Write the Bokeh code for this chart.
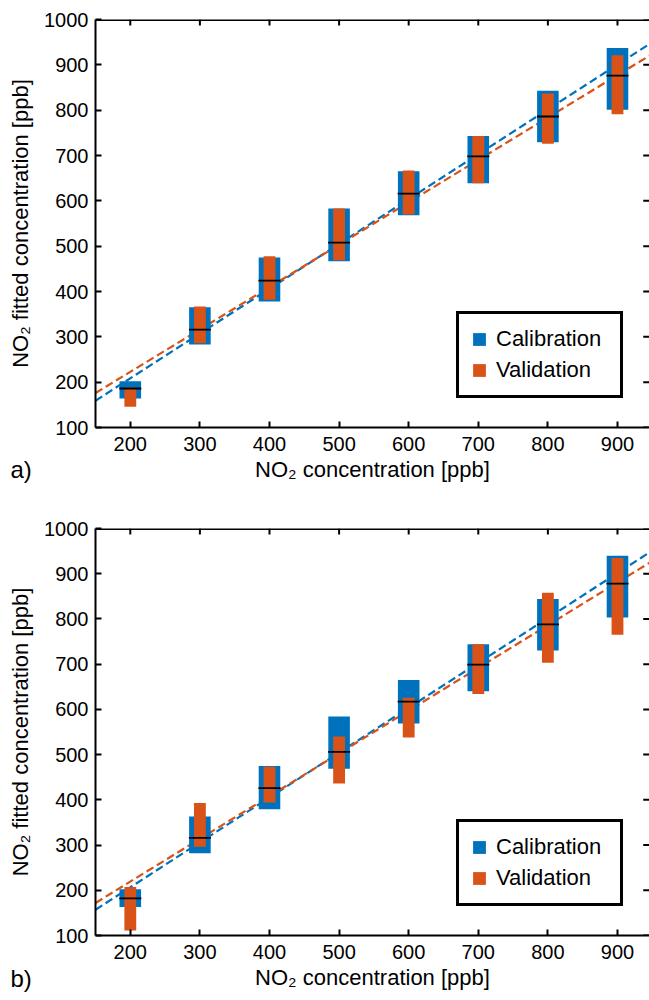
import numpy as np
from bokeh.plotting import figure
from bokeh.models import FixedTicker, Range1d, LinearAxis, Legend, Span, Title
from bokeh.layouts import column
from bokeh.embed import file_html
from bokeh.resources import INLINE

# ---- data ----
conc = [200, 300, 400, 500, 600, 700, 800, 900]
x_ticks = [200, 300, 400, 500, 600, 700, 800, 900]
y_ticks = [100, 200, 300, 400, 500, 600, 700, 800, 900, 1000]

# panel a)
a_cal_high = [202, 365, 475, 583, 665, 743, 843, 937]
a_cal_low = [164, 283, 378, 467, 568, 639, 729, 801]
a_cal_mid = [186, 316, 424, 508, 616, 698, 786, 876]
a_val_high = [188, 367, 478, 583, 667, 743, 837, 921]
a_val_low = [146, 286, 382, 469, 570, 639, 726, 791]
a_fit_x = [150, 950]
a_cal_fit = [159, 950]
a_val_fit = [176, 924]

# panel b)
b_cal_high = [202, 363, 475, 584, 665, 744, 844, 940]
b_cal_low = [163, 282, 379, 469, 569, 640, 730, 803]
b_cal_mid = [182, 316, 426, 506, 617, 699, 788, 878]
b_val_high = [207, 393, 473, 540, 626, 744, 858, 935]
b_val_low = [111, 296, 394, 436, 538, 634, 703, 765]
b_fit_x = [150, 950]
b_cal_fit = [157, 951]
b_val_fit = [172, 928]

BLUE = "#0072BD"
ORANGE = "#D95319"
FONT = "Liberation Sans"
X_MIN, X_MAX = 150, 946
Y_MIN, Y_MAX = 100, 1000
TICK_DX = 9     # inward tick length on the right side, data units
TICK_DY = 13    # inward tick length on the top side, data units


def make_panel(tag, cal_low, cal_high, cal_mid, val_low, val_high,
               fit_x, cal_fit, val_fit, top_border, bottom_border, legend_y, tag_standoff):
    p = figure(width=649, height=500, output_backend="svg", toolbar_location=None,
               x_range=Range1d(X_MIN, X_MAX), y_range=Range1d(Y_MIN, Y_MAX),
               min_border_left=95, min_border_right=0,
               min_border_top=top_border, min_border_bottom=bottom_border,
               x_axis_location=None, y_axis_location=None)
    p.outline_line_color = None
    p.xgrid.visible = False
    p.ygrid.visible = False
    p.background_fill_color = "white"
    p.border_fill_color = "white"

    # fit lines
    p.line(fit_x, cal_fit, line_color=BLUE, line_width=2.2, line_dash="8 4")
    p.line(fit_x, val_fit, line_color=ORANGE, line_width=2.2, line_dash="8 4")

    r1 = p.vbar(x=conc, width=31, bottom=cal_low, top=cal_high,
                fill_color=BLUE, line_color=None)
    r2 = p.vbar(x=conc, width=17, bottom=val_low, top=val_high,
                fill_color=ORANGE, line_color=None)
    p.scatter(conc, cal_mid, marker="dash", size=22, line_color="black", line_width=1.8)

    # top frame line and inward ticks on top / right sides (box on)
    p.add_layout(Span(location=Y_MAX, dimension="width", line_color="black", line_width=3))
    p.segment(x0=x_ticks, y0=[Y_MAX] * len(x_ticks), x1=x_ticks,
              y1=[Y_MAX - TICK_DY] * len(x_ticks), line_color="black", line_width=2)
    p.segment(x0=[X_MAX] * len(y_ticks), y0=y_ticks, x1=[X_MAX - TICK_DX] * len(y_ticks),
              y1=y_ticks, line_color="black", line_width=2)

    def style(ax):
        ax.ticker = FixedTicker(ticks=x_ticks if ax.dimension == 0 else y_ticks)
        ax.axis_line_color = "black"
        ax.axis_line_width = 2
        ax.major_tick_in = 6
        ax.major_tick_out = 0
        ax.major_tick_line_width = 2
        ax.major_tick_line_color = "black"
        ax.minor_tick_line_color = None
        ax.major_label_text_font = FONT
        ax.major_label_text_font_size = "20px"
        ax.major_label_text_color = "black"
        ax.axis_label_text_font = FONT
        ax.axis_label_text_font_size = "22px"
        ax.axis_label_text_font_style = "normal"
        ax.axis_label_text_color = "black"

    xb = LinearAxis(axis_label="NO₂ concentration [ppb]")
    style(xb)
    xb.major_label_standoff = 9
    xb.axis_label_standoff = 3
    p.add_layout(xb, "below")

    yl = LinearAxis(axis_label="NO₂ fitted concentration [ppb]")
    style(yl)
    yl.major_label_standoff = 7
    yl.axis_label_standoff = 8
    p.add_layout(yl, "left")

    legend = Legend(items=[("Calibration", [r1]), ("Validation", [r2])],
                    location=(361, legend_y), orientation="vertical")
    legend.label_text_font = FONT
    legend.label_text_font_size = "22px"
    legend.label_text_color = "black"
    legend.glyph_width = 16
    legend.glyph_height = 16
    legend.label_height = 22
    legend.label_width = 112
    legend.label_standoff = 9
    legend.spacing = 5
    legend.padding = 12
    legend.margin = 0
    legend.border_line_color = "black"
    legend.border_line_alpha = 1.0
    legend.border_line_width = 3
    legend.background_fill_color = "white"
    legend.background_fill_alpha = 1
    p.add_layout(legend, "center")

    # panel tag "a)" / "b)", level with the x-axis label, at the far left
    tag_title = Title(text=tag, align="left", vertical_align="top", offset=-85,
                      standoff=tag_standoff, text_font=FONT, text_font_size="24px",
                      text_font_style="normal", text_color="black")
    p.add_layout(tag_title, "below")
    return p


p1 = make_panel("a)", a_cal_low, a_cal_high, a_cal_mid, a_val_low, a_val_high,
                a_fit_x, a_cal_fit, a_val_fit, 19, 73, 29, -57)
p2 = make_panel("b)", b_cal_low, b_cal_high, b_cal_mid, b_val_low, b_val_high,
                b_fit_x, b_cal_fit, b_val_fit, 28, 65, 29, -55)

layout = column(p1, p2, spacing=0)
open("out.html", "w").write(file_html(layout, INLINE))
